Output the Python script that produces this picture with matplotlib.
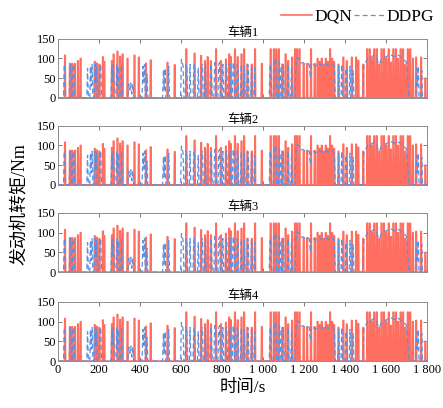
import numpy as np
import matplotlib.pyplot as plt
from matplotlib.ticker import FuncFormatter

plt.rcParams['font.family'] = ['Liberation Serif', 'Noto Sans CJK SC', 'DejaVu Sans']
plt.rcParams['axes.unicode_minus'] = False

# DQN torque: pulse centres (s) and peak torque (Nm)
dqn_t = [34, 58, 69, 82, 97, 110,
         179, 190, 202, 219, 226, 263, 271, 290, 303, 315, 339, 373, 394, 429, 452,
         534, 569, 626, 666, 698, 717, 730, 746, 771, 795, 819, 835, 843, 863, 876, 895,
         908, 924, 945, 961, 994, 1037, 1053, 1065, 1077, 1094, 1110, 1123, 1142,
         1156, 1166, 1178, 1198, 1215, 1234, 1252,
         1266, 1276, 1286, 1296, 1306, 1316, 1327, 1337, 1347,
         1368, 1392, 1408, 1433, 1454, 1465, 1489,
         1508, 1520, 1531, 1543, 1555, 1566, 1578, 1590, 1601, 1613, 1624,
         1636, 1648, 1659, 1671, 1683, 1694, 1706, 1718, 1731, 1747, 1771, 1792]
dqn_peak = [108, 87, 87, 87, 94, 100,
            92, 88, 85, 104, 92, 94, 111, 118, 105, 111, 100, 108, 103, 88, 96,
            90, 84, 124, 113, 107, 94, 104, 94, 124, 94, 98, 111, 104, 124, 104, 111,
            124, 85, 85, 124, 87, 124, 124, 124, 124, 85, 111, 94, 103,
            124, 124, 124, 85, 87, 124, 87,
            100, 92, 100, 85, 100, 92, 124, 100, 92,
            85, 103, 94, 103, 103, 95, 85,
            124, 124, 100, 124, 124, 85, 124, 124, 100, 124, 90,
            124, 124, 100, 124, 124, 85, 124, 124, 100, 103, 103, 50]

# DDPG torque: time (s) and torque (Nm)
ddpg_t = [0, 27, 30, 34, 37, 55, 58, 62, 66, 70, 73, 77, 80,
          140, 144, 148, 155, 158, 162, 166, 170, 176, 180, 184, 188, 192, 200, 204, 208, 212,
          258, 262, 266, 270, 274, 282, 286, 290, 294, 298, 306, 310, 314,
          340, 345, 350, 355, 360, 365, 370,
          410, 414, 418, 422, 426, 430, 434, 438,
          510, 514, 518, 522, 526, 536, 540, 544,
          598, 602, 606, 610, 614, 620, 624, 628, 632, 640, 644, 648,
          658, 662, 666, 670, 680, 684, 688, 696, 700, 704, 708, 715, 719, 723,
          740, 744, 748, 752, 760, 764, 768, 772, 780, 784, 788, 792, 800, 804, 808,
          815, 819, 823, 827, 835, 839, 843, 850, 854, 858, 862, 870, 874, 878, 882,
          890, 894, 898, 905, 909, 913, 920, 924, 928, 932, 940, 944, 948, 955, 959, 963,
          1030, 1034, 1038, 1042, 1050, 1054, 1058, 1062, 1066, 1075, 1079, 1083, 1087,
          1095, 1099, 1103, 1118, 1122, 1126, 1135, 1139, 1143,
          1155, 1162, 1170, 1180, 1188, 1195, 1205, 1215, 1225, 1232, 1236, 1245, 1255,
          1262, 1270, 1280, 1290, 1300, 1310, 1320, 1330, 1340, 1348, 1352,
          1365, 1369, 1373, 1380, 1384, 1388, 1400, 1404, 1408, 1412, 1420, 1424, 1428,
          1435, 1439, 1443,
          1488, 1492, 1500, 1510, 1520, 1530, 1540, 1550, 1560, 1566, 1572, 1580, 1590,
          1600, 1610, 1620, 1630, 1640, 1650, 1660, 1670, 1680, 1690, 1700, 1712,
          1745, 1749, 1753, 1757, 1761, 1770, 1774, 1778, 1800]
ddpg_v = [0, 0, 85, 80, 0, 0, 80, 85, 0, 0, 80, 85, 0,
          0, 75, 0, 0, 80, 30, 85, 0, 0, 85, 40, 80, 0, 0, 85, 85, 0,
          0, 80, 40, 85, 0, 0, 85, 30, 80, 0, 0, 85, 0,
          0, 35, 20, 38, 10, 35, 0,
          0, 80, 40, 85, 0, 0, 60, 0,
          0, 70, 20, 75, 0, 0, 80, 0,
          0, 98, 90, 80, 0, 0, 85, 80, 0, 0, 85, 0,
          0, 80, 85, 0, 0, 75, 0, 0, 80, 85, 0, 0, 85, 0,
          0, 85, 80, 0, 0, 90, 88, 0, 0, 85, 90, 0, 0, 85, 0,
          0, 80, 85, 0, 0, 85, 0, 0, 90, 85, 0, 0, 85, 80, 0,
          0, 85, 0, 0, 80, 0, 0, 85, 80, 0, 0, 80, 0, 0, 75, 0,
          0, 80, 85, 0, 0, 85, 95, 100, 0, 0, 90, 85, 0,
          0, 85, 0, 0, 85, 0, 0, 80, 0,
          0, 100, 102, 95, 88, 90, 85, 88, 85, 50, 88, 85, 80,
          85, 88, 85, 82, 88, 85, 82, 88, 85, 80, 0,
          0, 80, 0, 0, 85, 0, 0, 75, 60, 0, 0, 80, 0,
          0, 70, 0,
          0, 85, 90, 100, 98, 104, 108, 105, 92, 85, 90, 100, 105,
          103, 108, 110, 108, 105, 110, 108, 105, 100, 96, 90, 0,
          0, 75, 30, 80, 0, 0, 70, 0, 0]

vehicles = ['车辆1', '车辆2', '车辆3', '车辆4']
xticks = [0, 200, 400, 600, 800, 1000, 1200, 1400, 1600, 1800]
yticks = [0, 50, 100, 150]

red = '#FF6F61'
blue = '#5B8FE0'

# each DQN pulse is drawn as a narrow trapezoid back down to zero
pulse_x = []
pulse_y = []
for t, h in zip(dqn_t, dqn_peak):
    pulse_x += [t - 2.5, t - 1.2, t + 1.2, t + 2.5]
    pulse_y += [0, h, h, 0]
pulse_x = [0] + pulse_x + [1800]
pulse_y = [0] + pulse_y + [0]

fig = plt.figure(figsize=(4.43, 4.08), dpi=100)
bottoms = [0.760, 0.547, 0.333, 0.115]

axes = []
for i, name in enumerate(vehicles):
    ax = fig.add_axes([0.131, bottoms[i], 0.833, 0.145])
    l1, = ax.plot(pulse_x, pulse_y, color=red, lw=1.2, label='DQN')
    l2, = ax.plot(ddpg_t, ddpg_v, color=blue, lw=0.9, ls=(0, (4, 2.5)), label='DDPG')
    ax.set_xlim(0, 1800)
    ax.set_ylim(0, 150)
    ax.set_xticks(xticks)
    ax.set_yticks(yticks)
    ax.set_title(name, fontsize=9, pad=2)
    ax.tick_params(direction='in', top=True, right=True, labelsize=9,
                   length=3, width=0.6, color='0.4', pad=2)
    for s in ax.spines.values():
        s.set_color('0.55')
        s.set_linewidth(0.7)
    if i < 3:
        ax.set_xticklabels([])
    else:
        ax.xaxis.set_major_formatter(
            FuncFormatter(lambda v, p: f'{int(v):,}'.replace(',', ' ')))
    axes.append(ax)

axes[3].set_xlabel('时间/s', fontsize=12.5, labelpad=3)
fig.text(0.045, 0.5, '发动机转矩/Nm', rotation=90, fontsize=13,
         va='center', ha='center')

fig.legend([l1, l2], ['DQN', 'DDPG'], loc='upper right',
           bbox_to_anchor=(1.0, 1.0), ncol=2, frameon=False, fontsize=12.5,
           handlelength=1.8, handletextpad=0.1, columnspacing=0.1,
           borderaxespad=0.1)

fig.savefig('out.png', dpi=100)
